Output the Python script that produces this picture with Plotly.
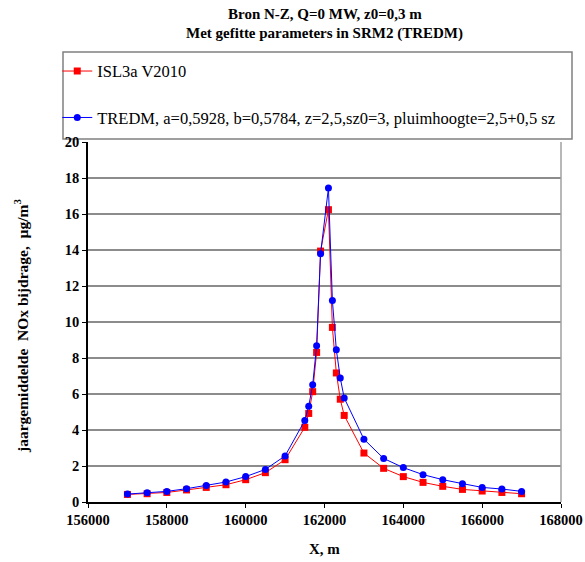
import plotly.graph_objects as go

# Data
x_vals = [157000, 157500, 158000, 158500, 159000, 159500, 160000, 160500, 161000,
          161500, 161600, 161700, 161800, 161900, 162100, 162200, 162300, 162400,
          162500, 163000, 163500, 164000, 164500, 165000, 165500, 166000, 166500, 167000]
isl3a = [0.42, 0.46, 0.53, 0.67, 0.81, 0.96, 1.24, 1.63, 2.35,
         4.15, 4.92, 6.13, 8.31, 13.94, 16.24, 9.70, 7.17, 5.71,
         4.81, 2.72, 1.87, 1.41, 1.09, 0.87, 0.70, 0.61, 0.53, 0.46]
tredm = [0.44, 0.52, 0.59, 0.74, 0.92, 1.11, 1.41, 1.81, 2.56,
         4.53, 5.32, 6.51, 8.68, 13.79, 17.44, 11.20, 8.46, 6.89,
         5.78, 3.49, 2.42, 1.91, 1.52, 1.24, 1.02, 0.81, 0.72, 0.59]
x_ticks = [156000, 158000, 160000, 162000, 164000, 166000, 168000]
y_ticks = [0, 2, 4, 6, 8, 10, 12, 14, 16, 18, 20]
name_isl = "ISL3a V2010"
name_tredm = "TREDM, a=0,5928, b=0,5784, z=2,5,sz0=3, pluimhoogte=2,5+0,5 sz"
title_lines = ["Bron N-Z, Q=0 MW, z0=0,3 m", "Met gefitte parameters in SRM2 (TREDM)"]
x_title = "X, m"
y_title = "jaargemiddelde&nbsp; NOx bijdrage,&nbsp; µg/m<sup>3</sup>"

FONT = "Liberation Serif"

fig = go.Figure()
fig.add_trace(go.Scatter(
    x=x_vals, y=isl3a, name=name_isl, mode="lines+markers",
    line=dict(color="#ff0000", width=1),
    marker=dict(symbol="square", size=7, color="#ff0000"),
    legendgroup="a",
))
fig.add_trace(go.Scatter(
    x=x_vals, y=tredm, name=name_tredm, mode="lines+markers",
    line=dict(color="#0000ff", width=1),
    marker=dict(symbol="circle", size=7, color="#0000ff"),
    legendgroup="b",
))

fig.update_layout(
    width=585, height=562,
    margin=dict(l=88, r=24, t=142, b=60, pad=0, autoexpand=False),
    paper_bgcolor="white", plot_bgcolor="white",
    font=dict(family=FONT, color="black", size=13),
    showlegend=True,
    legend=dict(x=-0.065, xanchor="left", y=1.245, yanchor="top",
                bgcolor="rgba(0,0,0,0)", borderwidth=0,
                font=dict(family=FONT, size=16.5, color="black"),
                tracegroupgap=22, itemwidth=30),
    xaxis=dict(range=[156000, 168000],
               tickvals=x_ticks, ticktext=["<b>%d</b>" % v for v in x_ticks],
               showgrid=False, zeroline=False,
               showline=True, linecolor="black", linewidth=1.5,
               ticks="outside", ticklen=4, tickcolor="black",
               tickfont=dict(family=FONT, size=14.5, color="black")),
    yaxis=dict(range=[0, 20],
               tickvals=y_ticks, ticktext=["<b>%d</b>" % v for v in y_ticks],
               showgrid=True, gridcolor="#8c8c8c", gridwidth=1.5,
               zeroline=False,
               showline=True, linecolor="black", linewidth=1.5,
               ticks="outside", ticklen=4, tickcolor="black",
               tickfont=dict(family=FONT, size=14.5, color="black")),
)

# titles as annotations
fig.add_annotation(text="<b>" + title_lines[0] + "</b>", xref="paper", yref="paper",
                   x=0.5, y=(502 - 14) / 360, xanchor="center", yanchor="middle",
                   showarrow=False, font=dict(family=FONT, size=15, color="black"))
fig.add_annotation(text="<b>" + title_lines[1] + "</b>", xref="paper", yref="paper",
                   x=0.5, y=(502 - 34) / 360, xanchor="center", yanchor="middle",
                   showarrow=False, font=dict(family=FONT, size=15, color="black"))
fig.add_annotation(text="<b>" + x_title + "</b>", xref="paper", yref="paper",
                   x=0.5, y=(502 - 549) / 360, xanchor="center", yanchor="middle",
                   showarrow=False, font=dict(family=FONT, size=15, color="black"))
fig.add_annotation(text="<b>" + y_title + "</b>", xref="paper", yref="paper",
                   x=(21 - 88) / 473, y=(502 - 326) / 360, xanchor="center", yanchor="middle",
                   textangle=-90,
                   showarrow=False, font=dict(family=FONT, size=15.5, color="black"))

# legend box and right plot border
fig.add_shape(type="rect", xref="paper", yref="paper",
              x0=(63 - 88) / 473, x1=(572 - 88) / 473,
              y0=(502 - 139) / 360, y1=(502 - 52) / 360,
              line=dict(color="#808080", width=1.5), fillcolor="rgba(0,0,0,0)",
              layer="below")
fig.add_shape(type="line", xref="paper", yref="paper",
              x0=1, x1=1, y0=0, y1=1,
              line=dict(color="#a0a0a0", width=1.5))

fig.write_html("out.html")
